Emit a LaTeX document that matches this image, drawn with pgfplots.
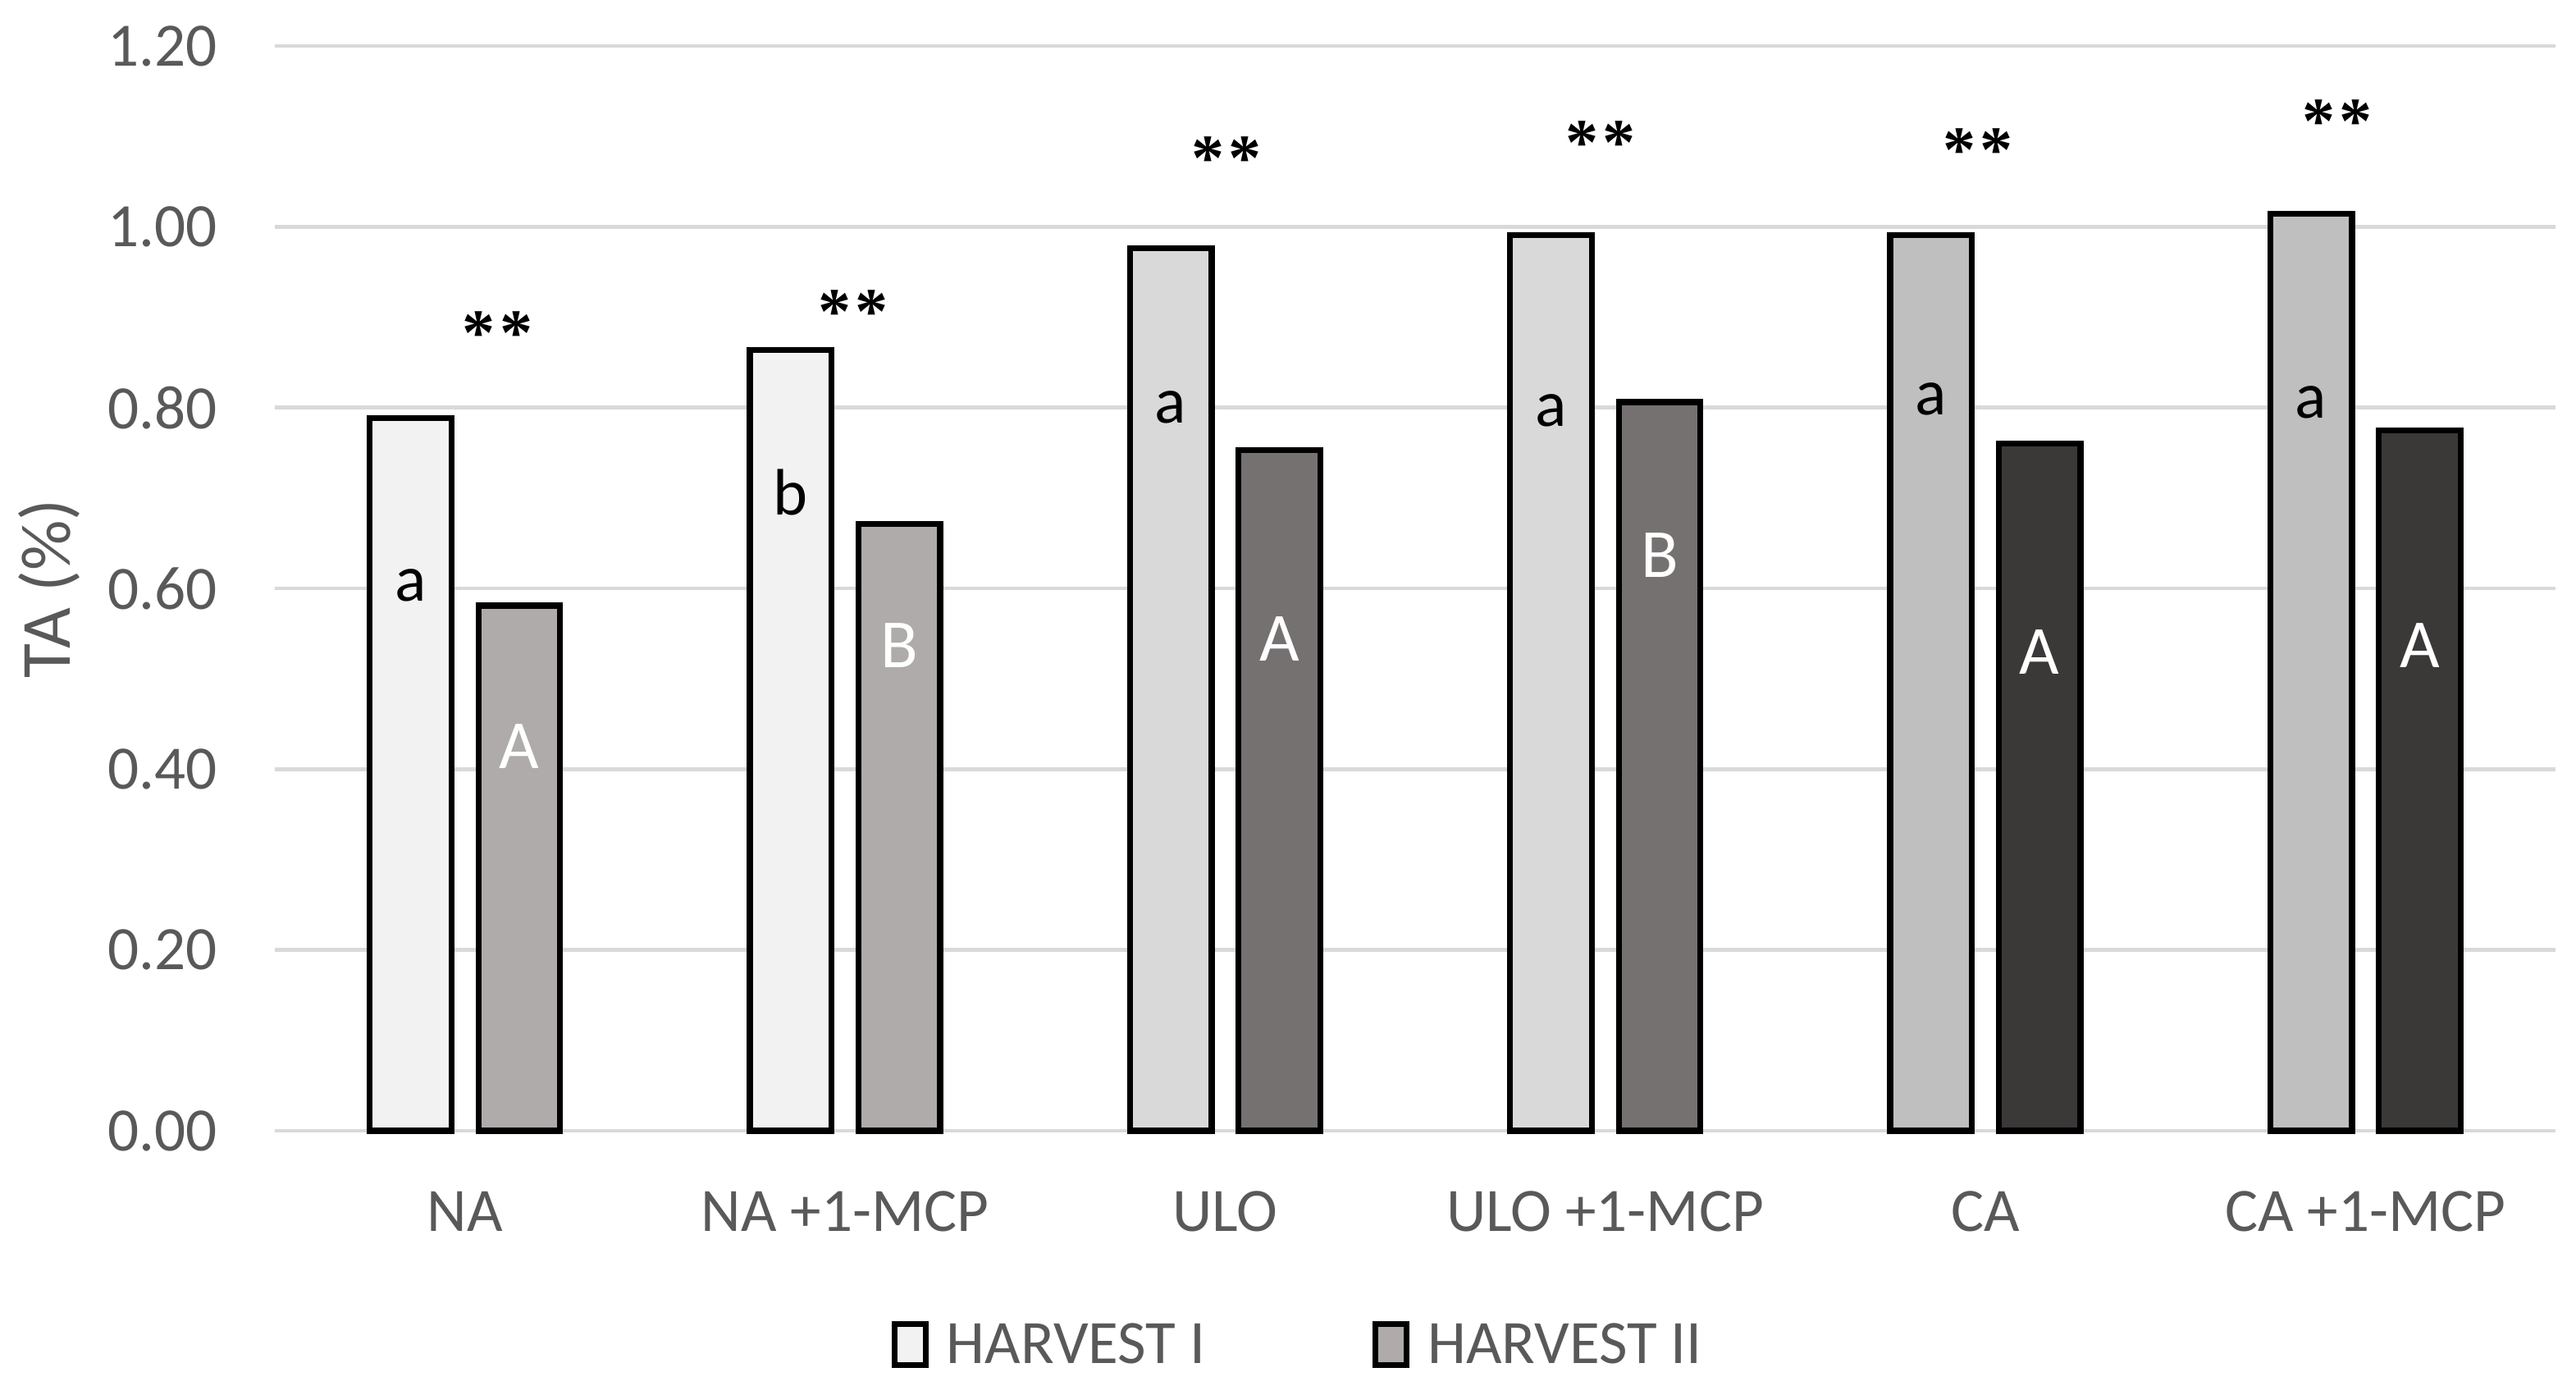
\documentclass[border=0pt]{standalone}
\usepackage{fontspec}
\setmainfont{Carlito}
\newfontfamily\starfont{Liberation Serif}
\usepackage{pgfplots}
\pgfplotsset{compat=1.18}
\definecolor{cA1}{HTML}{F2F2F2}
\definecolor{cA2}{HTML}{AFABAB}
\definecolor{cB1}{HTML}{D9D9D9}
\definecolor{cB2}{HTML}{767171}
\definecolor{cC1}{HTML}{BFBFBF}
\definecolor{cC2}{HTML}{3B3838}
\definecolor{txt}{HTML}{595959}
\definecolor{grd}{HTML}{D9D9D9}
\newcommand{\chartfont}{\fontsize{18.8}{22}\selectfont}
\begin{document}
\begin{tikzpicture}
\begin{axis}[
  scale only axis, width=695pt, height=330.5pt,
  xmin=-0.5, xmax=5.5, ymin=0, ymax=1.2,
  clip=false,
  xtick={0,1,2,3,4,5},
  xticklabels={NA, NA +1-MCP, ULO, ULO +1-MCP, CA, CA +1-MCP},
  ytick={0,0.2,0.4,0.6,0.8,1.0,1.2},
  /pgf/number format/assume math mode=true,
  yticklabel style={/pgf/number format/fixed, /pgf/number format/fixed zerofill, /pgf/number format/precision=2, anchor=east, xshift=-14pt},
  ticklabel style={font=\chartfont, text=txt},
  xticklabel style={anchor=base, yshift=-30.5pt},
  ymajorgrids, major grid style={grd, line width=1.1pt},
  axis line style={draw=none}, major tick length=0pt, tick style={draw=none},
  ylabel={TA (\%)},
  ylabel style={at={(rel axis cs:-0.099,0.5)}, anchor=center, font=\fontsize{21.5}{25}\selectfont, text=txt},
  legend columns=2,
  legend style={at={(rel axis cs:0.4496,-0.198)}, anchor=center, draw=none, fill=none, font=\chartfont, text=txt,
    /tikz/every even column/.append style={column sep=49pt}},
  legend cell align=left,
]
% HARVEST I
\addplot[ybar, bar width=0.215, bar shift=0, fill=cA1, draw=black, line width=1.8pt,
  legend image code/.code={\draw[fill=cA1, draw=black, line width=1.7pt] (0pt,-6pt) rectangle (9.5pt,6.5pt); \path (13pt,0pt);}]
  coordinates {(-0.143,0.788) (0.857,0.864)};
\addlegendentry{HARVEST I}
% HARVEST II
\addplot[ybar, bar width=0.215, bar shift=0, fill=cA2, draw=black, line width=1.8pt,
  legend image code/.code={\draw[fill=cA2, draw=black, line width=1.7pt] (0pt,-6pt) rectangle (9.5pt,6.5pt); \path (13pt,0pt);}]
  coordinates {(0.143,0.581) (1.143,0.671)};
\addlegendentry{HARVEST II}
\addplot[ybar, bar width=0.215, bar shift=0, fill=cB1, draw=black, line width=1.8pt, forget plot]
  coordinates {(1.857,0.976) (2.857,0.991)};
\addplot[ybar, bar width=0.215, bar shift=0, fill=cB2, draw=black, line width=1.8pt, forget plot]
  coordinates {(2.143,0.753) (3.143,0.806)};
\addplot[ybar, bar width=0.215, bar shift=0, fill=cC1, draw=black, line width=1.8pt, forget plot]
  coordinates {(3.857,0.991) (4.857,1.014)};
\addplot[ybar, bar width=0.215, bar shift=0, fill=cC2, draw=black, line width=1.8pt, forget plot]
  coordinates {(4.143,0.760) (5.143,0.775)};
% letters in HARVEST I bars
\addplot[forget plot, only marks, mark=*, mark size=0pt, mark options={draw=none, fill=none},
  point meta=explicit symbolic, nodes near coords,
  nodes near coords style={anchor=center, font=\fontsize{20}{23}\selectfont, text=black}]
  table[meta=lab] {
x y lab
-0.143 0.603 a
0.857 0.706 b
1.857 0.800 a
2.857 0.797 a
3.857 0.809 a
4.857 0.806 a
};
% letters in HARVEST II bars
\addplot[forget plot, only marks, mark=*, mark size=0pt, mark options={draw=none, fill=none},
  point meta=explicit symbolic, nodes near coords,
  nodes near coords style={anchor=center, font=\fontsize{21}{24}\selectfont, text=white}]
  table[meta=lab] {
x y lab
0.143 0.425 A
1.143 0.537 B
2.143 0.544 A
3.143 0.637 B
4.143 0.530 A
5.143 0.537 A
};
% significance stars
\addplot[forget plot, only marks, mark=*, mark size=0pt, mark options={draw=none, fill=none},
  nodes near coords={*\hspace{1.3pt}*},
  nodes near coords style={anchor=center, yshift=-2.6pt, font=\starfont\bfseries\fontsize{20}{24}\selectfont, text=black}]
  coordinates {(0.086,0.892) (1.022,0.915) (2.003,1.085) (2.987,1.102) (3.980,1.094) (4.925,1.126)};
\coordinate (ll) at (rel axis cs:0,0);
\coordinate (ur) at (rel axis cs:1,1);
\end{axis}
\pgfresetboundingbox
\path ([xshift=-83.75pt,yshift=-77.5pt]ll) rectangle ([xshift=6.25pt,yshift=14pt]ur);
\end{tikzpicture}
\end{document}
